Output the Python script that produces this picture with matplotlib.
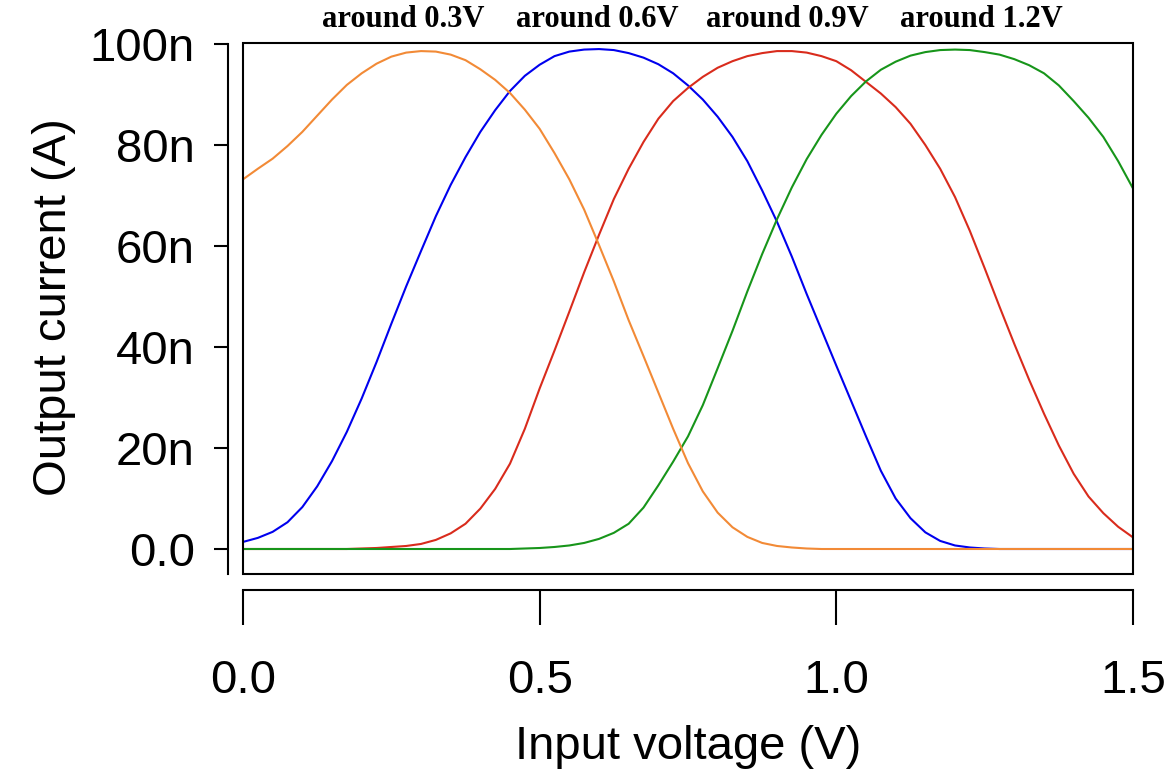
import numpy as np
import matplotlib.pyplot as plt
from matplotlib.patches import Rectangle

# Input voltage sample points (V)
voltage = np.linspace(0, 1.5, 61)

# Output current (nA) at 0.025 V steps
cur_03 = [73.2, 75.3, 77.3, 79.8, 82.6, 85.8, 89.0, 91.9, 94.2, 96.1,
          97.5, 98.3, 98.6, 98.5, 97.9, 96.8, 95.0, 92.9, 90.3, 87.0,
          83.2, 78.4, 73.2, 67.2, 60.2, 53.0, 45.3, 38.2, 31.0, 23.8,
          17.0, 11.4, 7.2, 4.3, 2.4, 1.2, 0.6, 0.3, 0.1, 0, 0,
          0, 0, 0, 0, 0, 0, 0, 0, 0, 0, 0, 0, 0, 0, 0, 0, 0, 0, 0, 0]
cur_06 = [1.4, 2.2, 3.4, 5.3, 8.3, 12.4, 17.4, 23.2, 29.8, 37.0,
          44.6, 52.0, 59.0, 65.9, 72.1, 77.6, 82.6, 86.9, 90.7, 93.7,
          95.9, 97.6, 98.5, 98.9, 99.0, 98.8, 98.2, 97.3, 96.0, 94.2,
          91.8, 89.0, 85.6, 81.6, 76.8, 71.0, 64.8, 57.9, 50.5, 43.4,
          36.3, 29.3, 22.3, 15.5, 10.0, 6.1, 3.3, 1.6, 0.7, 0.3,
          0.1, 0, 0, 0, 0, 0, 0, 0, 0, 0, 0]
cur_09 = [0, 0, 0, 0, 0, 0, 0, 0, 0.1, 0.2,
          0.4, 0.6, 1.0, 1.8, 3.1, 5.0, 8.0, 11.9, 16.9, 23.8,
          31.8, 39.3, 47.0, 54.8, 62.2, 69.3, 75.3, 80.6, 85.2, 88.7,
          91.3, 93.5, 95.3, 96.6, 97.6, 98.2, 98.6, 98.6, 98.3, 97.6,
          96.6, 94.8, 92.5, 90.2, 87.5, 84.2, 80.0, 75.3, 69.7, 63.0,
          55.6, 48.0, 40.6, 33.5, 26.8, 20.5, 14.9, 10.4, 7.1, 4.4, 2.3]
cur_12 = [0, 0, 0, 0, 0, 0, 0, 0, 0, 0,
          0, 0, 0, 0, 0, 0, 0, 0, 0, 0.1,
          0.2, 0.4, 0.7, 1.2, 2.0, 3.2, 5.0, 8.2, 12.6, 17.3,
          22.3, 28.5, 35.8, 43.2, 51.0, 58.4, 65.3, 71.6, 77.2, 82.0,
          86.2, 89.7, 92.6, 94.9, 96.5, 97.7, 98.4, 98.8, 98.9, 98.8,
          98.4, 97.9, 97.0, 95.8, 94.2, 91.8, 88.7, 85.4, 81.6, 76.8, 71.4]

peak_labels = ["around 0.3V", "around 0.6V", "around 0.9V", "around 1.2V"]
y_ticks = [0, 20, 40, 60, 80, 100]
y_ticklabels = ["0.0", "20n", "40n", "60n", "80n", "100n"]
x_ticks = [0.0, 0.5, 1.0, 1.5]
x_ticklabels = ["0.0", "0.5", "1.0", "1.5"]

plt.rcParams['font.family'] = ['Liberation Sans', 'DejaVu Sans']

W, H = 1175, 776
fig = plt.figure(figsize=(W / 100, H / 100), dpi=100)
ax = fig.add_axes([243 / W, 1 - 574 / H, (1133 - 243) / W, (574 - 42.7) / H])

lw = 1.5
for cur, col in [(cur_06, '#0000ee'), (cur_09, '#d92b1c'),
                 (cur_12, '#17951a'), (cur_03, '#f28a36')]:
    ax.plot(voltage, cur, color=col, lw=lw, solid_joinstyle='round')

ax.set_xlim(0, 1.5)
ax.set_ylim(-4.95, 100.26)

# box around the plot region
ax.add_patch(Rectangle((0, 0), 1, 1, transform=ax.transAxes, fill=False,
                       lw=lw, ec='black', clip_on=False, zorder=5))

# detached R-style axes
ax.spines['top'].set_visible(False)
ax.spines['right'].set_visible(False)
ax.spines['left'].set_position(('outward', 10.8))
ax.spines['bottom'].set_position(('outward', 11.2))
ax.spines['left'].set_bounds(-4.95, 100)
ax.spines['bottom'].set_bounds(0, 1.5)
ax.spines['left'].set_linewidth(lw)
ax.spines['bottom'].set_linewidth(lw)

ax.set_yticks(y_ticks, y_ticklabels)
ax.set_xticks(x_ticks, x_ticklabels)
ax.tick_params(axis='y', length=10, width=lw, labelsize=34, pad=14)
ax.tick_params(axis='x', length=25, width=lw, labelsize=34, pad=25)

fig.text(688 / W, 1 - 747 / H, "Input voltage (V)", fontsize=34,
         ha='center', va='center')
fig.text(54 / W, 1 - 307 / H, "Output current (A)", fontsize=34,
         ha='center', va='center', rotation=90)

label_x = [0.27, 0.597, 0.917, 1.244]
for lx, txt in zip(label_x, peak_labels):
    ax.text(lx, 1.043, txt, transform=ax.get_xaxis_transform(),
            ha='center', va='center', fontsize=22, fontweight='bold',
            family=['Liberation Serif'], clip_on=False)

fig.savefig("out.png", dpi=100)
